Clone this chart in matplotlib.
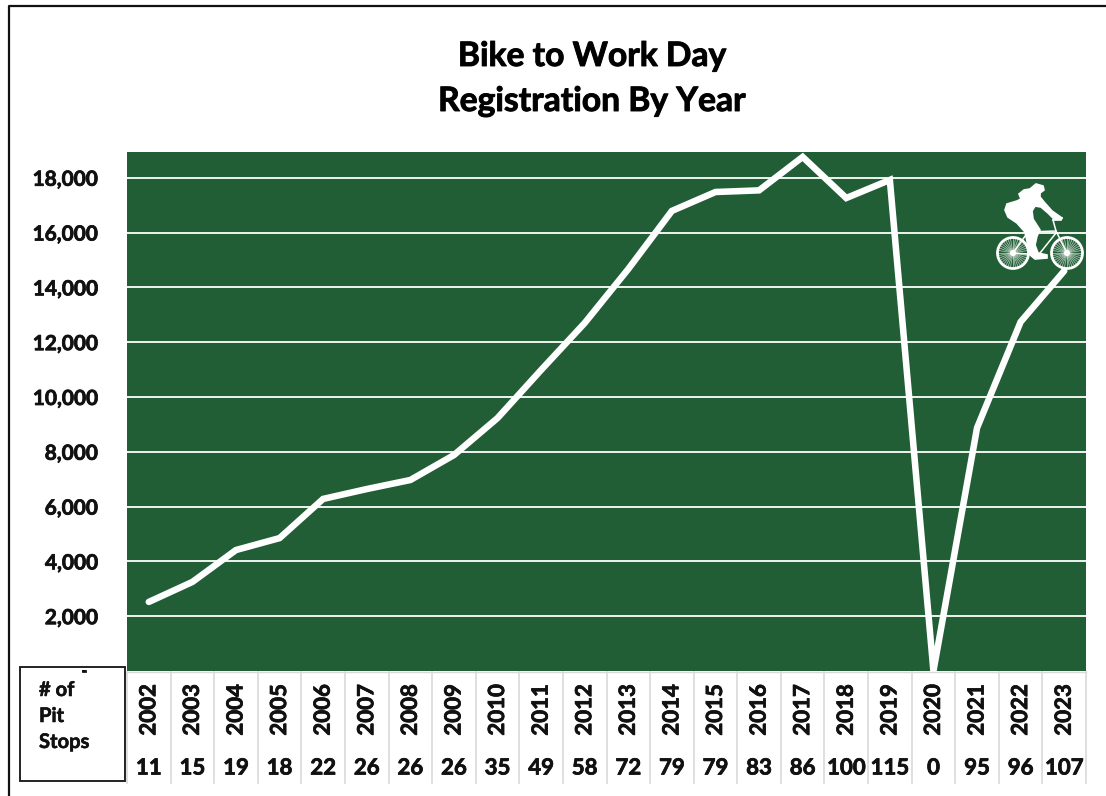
import numpy as np
import matplotlib
matplotlib.use("Agg")
import matplotlib.pyplot as plt
import matplotlib.patheffects as pe
from matplotlib.patches import Circle, Polygon, Rectangle
from matplotlib.lines import Line2D

years = [2002, 2003, 2004, 2005, 2006, 2007, 2008, 2009, 2010, 2011, 2012,
         2013, 2014, 2015, 2016, 2017, 2018, 2019, 2020, 2021, 2022, 2023]
registrations = [2520, 3250, 4415, 4850, 6280, 6640, 6970, 7880, 9230, 10985, 12700,
                 14670, 16790, 17480, 17540, 18760, 17260, 17920, 0, 8870, 12740, 14600]
pit_stops = [11, 15, 19, 18, 22, 26, 26, 26, 35, 49, 58,
             72, 79, 79, 83, 86, 100, 115, 0, 95, 96, 107]
y_ticks = [2000, 4000, 6000, 8000, 10000, 12000, 14000, 16000, 18000]

W, H = 1106, 796
GREEN = "#215e36"
plt.rcParams['font.family'] = ['Lato', 'DejaVu Sans']

# Lato bold is lighter than the reference, thicken it a bit
def heavy(w=0.55):
    return [pe.withStroke(linewidth=w, foreground="#111111")]


fig = plt.figure(figsize=(W / 100, H / 100), dpi=100, facecolor="white")

# plot area, pixel box 127-1086 / 152-671
ax = fig.add_axes([127 / W, 1 - 671 / H, 959 / W, 519 / H], facecolor=GREEN)
ax.set_xlim(-0.5, len(years) - 0.5)
ax.set_ylim(0, 18940)
for s in ax.spines.values():
    s.set_visible(False)
ax.set_xticks([])
ax.set_yticks(y_ticks)
ax.set_yticklabels([f"{v:,}" for v in y_ticks], fontsize=15, fontweight="bold", color="#111111",
                   path_effects=heavy())
ax.tick_params(axis="y", length=0, pad=21)
ax.grid(axis="y", color="white", linewidth=1.3)
ax.set_axisbelow(True)
ax.plot(range(len(years)), registrations, color="white", linewidth=4.7, solid_capstyle="round",
        solid_joinstyle="miter", clip_on=True)

# overlay in pixel coords for frame, table and bike
ov = fig.add_axes([0, 0, 1, 1], facecolor="none")
ov.set_xlim(0, W)
ov.set_ylim(H, 0)
ov.axis("off")

ov.add_line(Line2D([9, 9, W], [H, 6, 6], color="#111111", linewidth=1.6))
for label, y in [("Bike to Work Day", 56), ("Registration By Year", 101)]:
    ov.text(592, y, label, ha="center", va="center", fontsize=24.2, fontweight="bold", color="black",
            path_effects=heavy(0.7))

# year / pit stop table
step = 959 / len(years)
for i in range(len(years) + 1):
    x = 127 + i * step
    ov.add_line(Line2D([x, x], [672, 783], color="#d9d9d9", linewidth=1.2))
ov.add_line(Line2D([127, 1086], [671.5, 671.5], color="#d9d9d9", linewidth=1.0))
for i, (yr, n) in enumerate(zip(years, pit_stops)):
    x = 127 + (i + 0.5) * step
    ov.text(x, 710, str(yr), rotation=90, ha="center", va="center", fontsize=16, fontweight="bold",
            color="#111111", path_effects=heavy())
    ov.text(x, 768, str(n), ha="center", va="center", fontsize=16, fontweight="bold",
            color="#111111", path_effects=heavy())

ov.add_patch(Rectangle((20, 667), 105, 114, facecolor="white", edgecolor="#222222", linewidth=1.4))
ov.text(84, 671, "-", ha="center", va="center", fontsize=13, fontweight="bold", color="#111111",
        path_effects=heavy())
for label, y in [("# of", 690), ("Pit", 716), ("Stops", 742)]:
    ov.text(39, y, label, ha="left", va="center", fontsize=14.5, fontweight="bold", color="#111111",
            path_effects=heavy(0.4))

# cyclist icon
for cx in (1013, 1067):
    for a in np.linspace(0, 2 * np.pi, 36, endpoint=False):
        ov.add_line(Line2D([cx, cx + 15 * np.cos(a)], [253, 253 + 15 * np.sin(a)],
                           color="white", linewidth=0.6, alpha=0.6))
    ov.add_patch(Circle((cx, 253), 15.5, facecolor="none", edgecolor="white", linewidth=2.0))
    ov.add_patch(Circle((cx, 253), 3, facecolor="white", edgecolor="none"))
rider = [(1036, 184), (1043, 186), (1044, 190), (1040, 193), (1040, 197), (1044, 202),
         (1052, 211), (1062, 218), (1061, 220), (1055, 220), (1048, 213), (1041, 207),
         (1035, 206), (1032, 211), (1033, 219), (1040, 230), (1037, 236), (1035, 245),
         (1038, 253), (1047, 255), (1047, 258), (1035, 259), (1029, 254), (1027, 241),
         (1025, 232), (1017, 223), (1008, 217), (1005, 210), (1007, 204), (1017, 201),
         (1021, 199), (1019, 194), (1024, 190), (1030, 189)]
ov.add_patch(Polygon(rider, closed=True, facecolor="white", edgecolor="white", linewidth=1.2))
frame_segs = [((1013, 253), (1028, 232)), ((1028, 232), (1056, 231)), ((1056, 231), (1067, 253)),
              ((1040, 253), (1056, 233)), ((1013, 253), (1040, 255)), ((1053, 220), (1056, 231)),
              ((1053, 220), (1062, 218))]
for a, b in frame_segs:
    ov.add_line(Line2D([a[0], b[0]], [a[1], b[1]], color="white", linewidth=1.1))

fig.savefig("out.png", dpi=100)
